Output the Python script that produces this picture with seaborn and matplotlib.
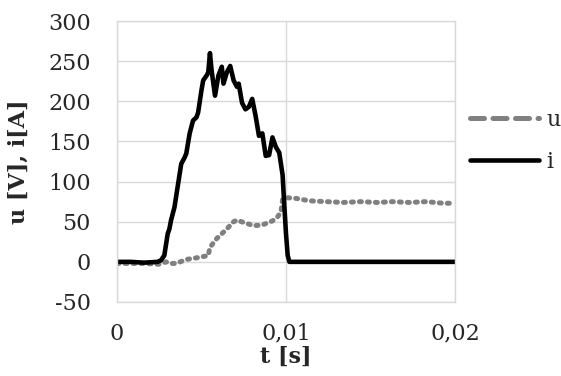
import matplotlib
matplotlib.use("Agg")
import matplotlib.pyplot as plt
import seaborn as sns
import pandas as pd
from matplotlib.lines import Line2D

# ---- data ----
t_i = [0, 0.0008, 0.0016, 0.0024, 0.0026, 0.0028, 0.0030, 0.0031, 0.0032, 0.0034,
       0.0036, 0.0038, 0.0040, 0.0041, 0.0043, 0.0045, 0.0047, 0.0048, 0.0050, 0.0051,
       0.0053, 0.0054, 0.0055, 0.0056, 0.0058, 0.0060, 0.0062, 0.0063, 0.0065, 0.0067,
       0.0069, 0.0071, 0.0072, 0.0074, 0.0076, 0.0078, 0.0080, 0.0082, 0.0084, 0.0086,
       0.0088, 0.0090, 0.0092, 0.0094, 0.0096, 0.0098, 0.0099, 0.0100, 0.0101, 0.0102,
       0.011, 0.013, 0.015, 0.017, 0.019, 0.020]
i_vals = [0, 0, -1, 0, 2, 8, 35, 41, 52, 68,
          95, 122, 130, 135, 160, 176, 180, 186, 214, 226,
          232, 236, 260, 238, 207, 232, 243, 222, 236, 244,
          226, 218, 222, 198, 190, 193, 203, 182, 157, 160,
          132, 133, 155, 143, 136, 108, 70, 35, 8, 0,
          0, 0, 0, 0, 0, 0]

t_u = [0, 0.0015, 0.0025, 0.0029, 0.0032, 0.0035, 0.0041, 0.0047, 0.0052, 0.0054,
       0.0055, 0.0059, 0.0065, 0.0069, 0.0071, 0.0075, 0.0081, 0.0086, 0.0092, 0.0095,
       0.0097, 0.0098, 0.0100, 0.0106, 0.0114, 0.0124, 0.0134, 0.0144, 0.0154, 0.0163,
       0.0173, 0.0183, 0.0193, 0.0200]
u_vals = [-2, -2, -3, 0, -2, -2, 3, 5, 7, 8,
          18, 29, 41, 50, 52, 49, 45, 46, 51, 56,
          62, 78, 80, 79, 76, 75, 74, 75, 74, 75,
          74, 75, 73, 73]

x_ticks = [0, 0.01, 0.02]
x_ticklabels = ["0", "0,01", "0,02"]
y_ticks = [-50, 0, 50, 100, 150, 200, 250, 300]
y_ticklabels = ["-50", "0", "50", "100", "150", "200", "250", "300"]
series_names = ["u", "i"]
x_label = "t [s]"
y_label = "u [V], i[A]"

df_u = pd.DataFrame({"t": t_u, "val": u_vals})
df_i = pd.DataFrame({"t": t_i, "val": i_vals})

sns.set_theme(style="white")
plt.rcParams["font.family"] = ["DejaVu Serif"]

fig = plt.figure(figsize=(5.61, 3.76), dpi=100)
ax = fig.add_axes([117 / 561, 1 - 302 / 376, (455 - 117) / 561, (302 - 21) / 376])

grey = "#808080"
sns.lineplot(data=df_u, x="t", y="val", ax=ax, color=grey, linewidth=3.6)
ax.lines[-1].set_linestyle((0, (0.4, 1.2)))
ax.lines[-1].set_dash_capstyle("round")
sns.lineplot(data=df_i, x="t", y="val", ax=ax, color="black", linewidth=3.3)

ax.set_xlim(0, 0.02)
ax.set_ylim(-50, 300)
ax.set_xticks(x_ticks)
ax.set_xticklabels(x_ticklabels)
ax.set_yticks(y_ticks)
ax.set_yticklabels(y_ticklabels)
ax.tick_params(axis="y", length=0, pad=19, labelsize=16)
ax.tick_params(axis="x", length=0, pad=15, labelsize=16)

ax.grid(True, color="#d9d9d9", linewidth=1.0)
ax.set_axisbelow(True)
for s in ax.spines.values():
    s.set_color("#d9d9d9")
    s.set_linewidth(1.0)

ax.set_xlabel(x_label, fontsize=16, fontweight="bold", labelpad=1)
ax.set_ylabel(y_label, fontsize=16, fontweight="bold", labelpad=13)

handles = [
    Line2D([0], [0], color=grey, linewidth=3.6, linestyle=(0, (2.8, 1.7)),
           dash_capstyle="round"),
    Line2D([0], [0], color="black", linewidth=3.3),
]
leg = fig.legend(handles, series_names, loc="center left",
                 bbox_to_anchor=(470 / 561, 1 - 141 / 376), frameon=False,
                 fontsize=16, handlelength=3.1, handletextpad=0.35,
                 labelspacing=0.9, borderpad=0, borderaxespad=0)

fig.savefig("out.png", dpi=100)
